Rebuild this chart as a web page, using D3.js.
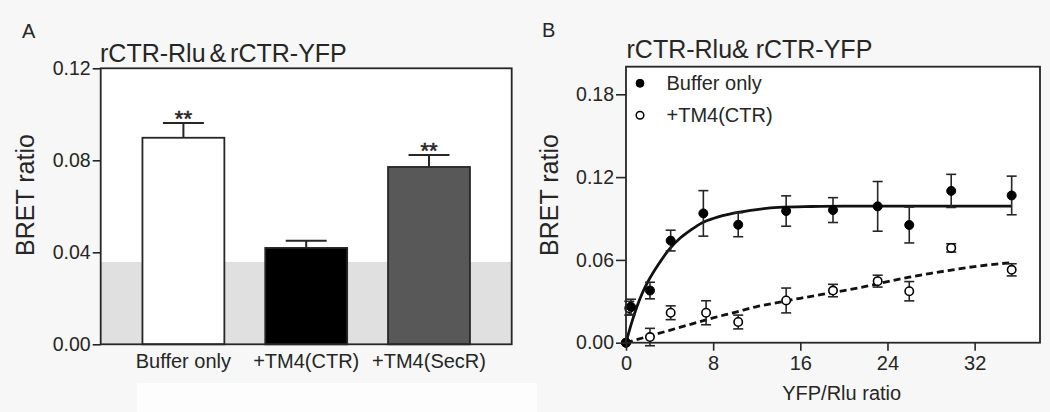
<!DOCTYPE html>
<html>
<head>
<meta charset="utf-8">
<script src="https://cdn.jsdelivr.net/npm/d3@7"></script>
<style>
  html, body { margin: 0; padding: 0; background: #f6f6f6; }
  svg { display: block; font-family: "Liberation Sans", Arial, sans-serif; }
</style>
</head>
<body>
<svg id="chart" width="1050" height="412"></svg>
<script>
// ---------- Panel A data ----------
const barCategories = ["Buffer only", "+TM4(CTR)", "+TM4(SecR)"];
const barValues = [0.0898, 0.0419, 0.0771];
const barErrors = [0.0064, 0.0031, 0.0052];
const barStars = ["**", "", "**"];
const bandLevel = 0.0358;
const yTicksA = [0, 0.04, 0.08, 0.12];

// ---------- Panel B data ----------
const bufferX = [0, 0.46, 2.2, 4.1, 7.1, 10.3, 14.7, 19.0, 23.1, 26.0, 29.85, 35.4];
const bufferY = [0, 0.026, 0.0378, 0.074, 0.0937, 0.0855, 0.0954, 0.0961, 0.0988, 0.0853, 0.110, 0.1067];
const bufferErr = [0, 0.0055, 0.006, 0.0075, 0.0165, 0.0087, 0.011, 0.009, 0.018, 0.013, 0.012, 0.014];
const tm4X = [0, 0.3, 2.2, 4.1, 7.35, 10.3, 14.7, 19.0, 23.1, 26.0, 29.85, 35.4];
const tm4Y = [0, 0.025, 0.0041, 0.0217, 0.0217, 0.015, 0.0306, 0.0378, 0.0446, 0.0373, 0.0687, 0.0528];
const tm4Err = [0, 0.005, 0.0063, 0.005, 0.0087, 0.005, 0.009, 0.0045, 0.0043, 0.007, 0.003, 0.0044];
// fitted curves
const bufferFitX = [0, 0.5, 1, 1.5, 2, 3, 4, 5, 6, 7, 8, 10, 12, 14, 17, 20, 25, 30, 35.4];
const bufferFitY = [0, 0.014, 0.026, 0.036, 0.044, 0.057, 0.068, 0.076, 0.082, 0.087, 0.090, 0.094, 0.0965, 0.098, 0.0987, 0.099, 0.099, 0.099, 0.099];
const tm4FitX = [0, 2, 4, 6, 8, 10, 12, 14, 16, 18, 20, 22, 24, 26, 28, 30, 32, 34, 35.4];
const tm4FitY = [0, 0.0045, 0.009, 0.0135, 0.018, 0.022, 0.0262, 0.0292, 0.0322, 0.035, 0.0378, 0.0408, 0.0442, 0.0475, 0.0503, 0.0528, 0.0552, 0.057, 0.058];
const xTicksB = [0, 8, 16, 24, 32];
const yTicksB = [0, 0.06, 0.12, 0.18];

const svg = d3.select("#chart");
const ink = "#262626";

// background patches
svg.append("rect").attr("x", 0).attr("y", 0).attr("width", 1050).attr("height", 412).attr("fill", "#f7f7f7");
svg.append("rect").attr("x", 137).attr("y", 383).attr("width", 400).attr("height", 29).attr("fill", "#fdfdfd");

// ================= Panel A =================
const A = { left: 100.7, right: 511.7, top: 68.3, bottom: 344.3 };
const xA = d3.scaleBand().domain(barCategories).range([A.left, A.right]).paddingInner(0.333).paddingOuter(0.34);
const yA = d3.scaleLinear().domain([0, 0.12]).range([A.bottom, A.top]);

svg.append("rect").attr("x", A.left).attr("y", A.top).attr("width", A.right - A.left).attr("height", A.bottom - A.top).attr("fill", "#ffffff");
svg.append("rect").attr("x", A.left).attr("y", yA(bandLevel)).attr("width", A.right - A.left)
  .attr("height", yA(0) - yA(bandLevel)).attr("fill", "#e0e0e0");

const barFills = ["#ffffff", "#000000", "#585858"];
const gA = svg.append("g");
barCategories.forEach((c, i) => {
  const x0 = xA(c), bw = xA.bandwidth(), cx = x0 + bw / 2;
  const top = yA(barValues[i] + barErrors[i]);
  gA.append("line").attr("x1", cx).attr("x2", cx).attr("y1", yA(barValues[i])).attr("y2", top)
    .attr("stroke", ink).attr("stroke-width", 2);
  gA.append("line").attr("x1", cx - bw / 4).attr("x2", cx + bw / 4).attr("y1", top).attr("y2", top)
    .attr("stroke", ink).attr("stroke-width", 2);
  gA.append("rect").attr("x", x0).attr("y", yA(barValues[i])).attr("width", bw)
    .attr("height", yA(0) - yA(barValues[i])).attr("fill", barFills[i]).attr("stroke", ink).attr("stroke-width", 1.8);
  if (barStars[i]) {
    gA.append("text").attr("x", cx).attr("y", top + 3).attr("text-anchor", "middle")
      .attr("font-size", 22).attr("fill", ink).attr("stroke", ink).attr("stroke-width", 0.6).text(barStars[i]);
  }
});

// frame A
svg.append("rect").attr("x", A.left).attr("y", A.top).attr("width", A.right - A.left).attr("height", A.bottom - A.top)
  .attr("fill", "none").attr("stroke", ink).attr("stroke-width", 1.8);

const axA = svg.append("g").attr("transform", `translate(${A.left},0)`)
  .call(d3.axisLeft(yA).tickValues(yTicksA).tickFormat(d3.format(".2f")).tickSize(8).tickPadding(2));
axA.select(".domain").remove();
axA.selectAll("line").attr("stroke", ink).attr("stroke-width", 1.6);
axA.selectAll("text").attr("font-size", 19.5).attr("fill", ink).attr("font-family", "Liberation Sans, Arial, sans-serif");

const axAx = svg.append("g").attr("transform", `translate(0,${A.bottom})`)
  .call(d3.axisBottom(xA).tickSize(0).tickPadding(10));
axAx.select(".domain").remove();
axAx.selectAll("text").attr("font-size", 20).attr("fill", ink).attr("font-family", "Liberation Sans, Arial, sans-serif");

svg.append("text").attr("x", 22).attr("y", 38).attr("font-size", 20).attr("fill", ink).text("A");
svg.append("text").attr("x", 100).attr("y", 61.5).attr("font-size", 25).attr("fill", ink)
  .attr("word-spacing", "-3").text("rCTR-Rlu & rCTR-YFP");
svg.append("text").attr("transform", `translate(34,195) rotate(-90)`).attr("text-anchor", "middle")
  .attr("font-size", 25).attr("fill", ink).text("BRET ratio");

// ================= Panel B =================
const B = { left: 626, right: 1040, top: 66.7, bottom: 342.7 };
const xB = d3.scaleLinear().domain([0, 38]).range([B.left, B.right]);
const yB = d3.scaleLinear().domain([0, 0.2]).range([B.bottom, B.top]);

svg.append("rect").attr("x", B.left).attr("y", B.top).attr("width", B.right - B.left).attr("height", B.bottom - B.top).attr("fill", "#ffffff");

const line = d3.line().x(d => xB(d[0])).y(d => yB(d[1])).curve(d3.curveMonotoneX);
svg.append("path").datum(bufferFitX.map((x, i) => [x, bufferFitY[i]])).attr("d", line)
  .attr("fill", "none").attr("stroke", "#111").attr("stroke-width", 2.8);
svg.append("path").datum(tm4FitX.map((x, i) => [x, tm4FitY[i]])).attr("d", line)
  .attr("fill", "none").attr("stroke", "#111").attr("stroke-width", 2.8).attr("stroke-dasharray", "7,4");

function drawSeries(xs, ys, es, filled) {
  const g = svg.append("g");
  xs.forEach((x, i) => {
    const cx = xB(x);
    if (es[i] > 0) {
      const y1 = yB(ys[i] + es[i]), y2 = yB(ys[i] - es[i]);
      g.append("line").attr("x1", cx).attr("x2", cx).attr("y1", y1).attr("y2", y2).attr("stroke", ink).attr("stroke-width", 1.6);
      [y1, y2].forEach(yy => g.append("line").attr("x1", cx - 5).attr("x2", cx + 5).attr("y1", yy).attr("y2", yy)
        .attr("stroke", ink).attr("stroke-width", 1.6));
    }
    g.append("circle").attr("cx", cx).attr("cy", yB(ys[i])).attr("r", filled ? 4.5 : 4.2)
      .attr("fill", filled ? "#000" : "#fff").attr("stroke", "#000").attr("stroke-width", filled ? 1 : 1.6);
  });
}
drawSeries(tm4X, tm4Y, tm4Err, false);
drawSeries(bufferX, bufferY, bufferErr, true);

// frame B
svg.append("rect").attr("x", B.left).attr("y", B.top).attr("width", B.right - B.left).attr("height", B.bottom - B.top)
  .attr("fill", "none").attr("stroke", ink).attr("stroke-width", 1.8);

const axBy = svg.append("g").attr("transform", `translate(${B.left},0)`)
  .call(d3.axisLeft(yB).tickValues(yTicksB).tickFormat(d3.format(".2f")).tickSize(10).tickPadding(2));
axBy.select(".domain").remove();
axBy.selectAll("line").attr("stroke", ink).attr("stroke-width", 1.6);
axBy.selectAll("text").attr("font-size", 19.5).attr("fill", ink).attr("font-family", "Liberation Sans, Arial, sans-serif");

const axBx = svg.append("g").attr("transform", `translate(0,${B.bottom})`)
  .call(d3.axisBottom(xB).tickValues(xTicksB).tickFormat(d3.format("d")).tickSize(8).tickPadding(5));
axBx.select(".domain").remove();
axBx.selectAll("line").attr("stroke", ink).attr("stroke-width", 1.6);
axBx.selectAll("text").attr("font-size", 20).attr("fill", ink).attr("font-family", "Liberation Sans, Arial, sans-serif");

svg.append("text").attr("x", 542).attr("y", 37).attr("font-size", 20).attr("fill", ink).text("B");
svg.append("text").attr("x", 626.5).attr("y", 58).attr("font-size", 25).attr("fill", ink).text("rCTR-Rlu& rCTR-YFP");
svg.append("text").attr("transform", `translate(558,195) rotate(-90)`).attr("text-anchor", "middle")
  .attr("font-size", 25).attr("fill", ink).text("BRET ratio");
svg.append("text").attr("x", 841.7).attr("y", 400).attr("text-anchor", "middle")
  .attr("font-size", 20).attr("fill", ink).text("YFP/Rlu ratio");

// legend B
const legendItems = [["Buffer only", true], ["+TM4(CTR)", false]];
legendItems.forEach(([label, filled], i) => {
  const ly = 83.3 + i * 32;
  svg.append("circle").attr("cx", 640).attr("cy", ly).attr("r", filled ? 4 : 3.8)
    .attr("fill", filled ? "#000" : "#fff").attr("stroke", "#000").attr("stroke-width", filled ? 1 : 1.5);
  svg.append("text").attr("x", 666.5).attr("y", ly + 6.5).attr("font-size", 20).attr("fill", ink).text(label);
});
</script>
</body>
</html>
